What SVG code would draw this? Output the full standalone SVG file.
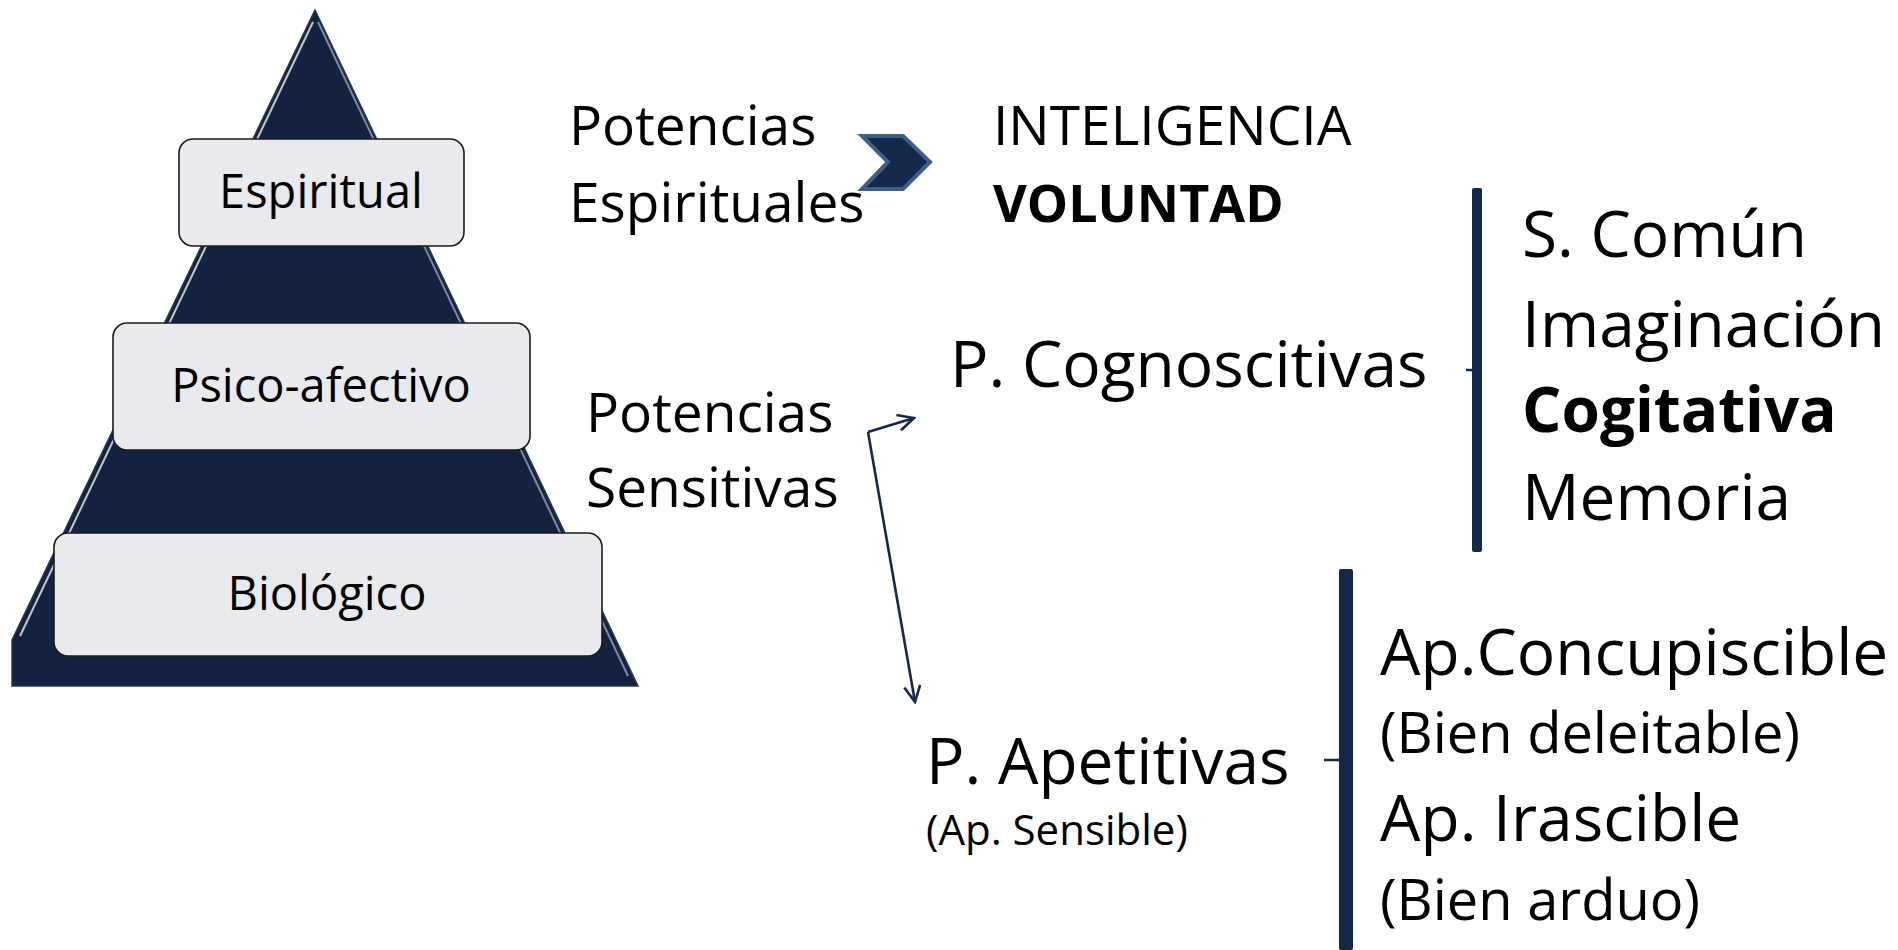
<svg xmlns="http://www.w3.org/2000/svg" width="1898" height="950" viewBox="0 0 1898 950">
<defs>
<style>
text{font-family:"Open Sans","Noto Sans","Liberation Sans",sans-serif;fill:#000}
.lvl{fill:#E8EAED;stroke:#1b1b1b;stroke-width:1.6}
.lbl{font-size:47px;text-anchor:middle}
.mid{font-size:55px}
.big{font-size:64px}
.sub{font-size:56px}
.b{font-weight:bold}
.conn{fill:none;stroke:#14294A;stroke-width:2.6}
.bar{fill:#14294A}
</style>
<marker id="open" viewBox="0 0 20 20" refX="18" refY="10" markerWidth="20" markerHeight="20" markerUnits="userSpaceOnUse" orient="auto">
<path d="M2,2 L18,10 L2,18" fill="none" stroke="#14294A" stroke-width="2.6"/>
</marker>
</defs>
<rect width="1898" height="950" fill="#fff"/>
<g id="pyramid">
<polygon points="315,10 638,686 12,686 12,640" fill="#13233F" stroke="#2a3550" stroke-width="1.5"/>
<polyline points="20,636 313,22" fill="none" stroke="#dfe3ea" stroke-width="2" opacity="0.85"/>
<polyline points="318,22 628,676" fill="none" stroke="#9aa3b2" stroke-width="2" opacity="0.8"/>
</g>
<g id="espiritual">
<rect class="lvl" x="179" y="139" width="285" height="107" rx="14"/>
<text class="lbl" x="321" y="208">Espiritual</text>
</g>
<g id="psico">
<rect class="lvl" x="113" y="323" width="417" height="127" rx="14"/>
<text class="lbl" x="321" y="402">Psico-afectivo</text>
</g>
<g id="biologico">
<rect class="lvl" x="54" y="533" width="548" height="123" rx="14"/>
<text class="lbl" x="327" y="610">Biológico</text>
</g>
<g id="pot-esp">
<text class="mid" x="569" y="145">Potencias</text>
<text class="mid" x="569" y="222">Espirituales</text>
</g>
<g id="chevron">
<polygon points="862,136 903,136 930,162 903,189 862,189 888,162" fill="#13284A" stroke="#3E5F8A" stroke-width="4" stroke-linejoin="miter"/>
</g>
<g id="espirituales-list">
<text class="mid" x="993" y="145">INTELIGENCIA</text>
<text class="b" x="993" y="222" style="font-size:52px">VOLUNTAD</text>
</g>
<g id="pot-sens">
<text class="mid" x="586" y="432">Potencias</text>
<text class="mid" x="586" y="507">Sensitivas</text>
</g>
<g id="cognoscitivas">
<text class="big" x="950" y="387">P. Cognoscitivas</text>
</g>
<g id="cog-list">
<text class="big" x="1522" y="257">S. Común</text>
<text class="big" x="1522" y="347">Imaginación</text>
<text class="b" x="1522" y="432" style="font-size:62px">Cogitativa</text>
<text class="big" x="1522" y="520">Memoria</text>
</g>
<g id="apetitivas">
<text class="big" x="926" y="784">P. Apetitivas</text>
<text x="926" y="845" style="font-size:42px">(Ap. Sensible)</text>
</g>
<g id="ap-list">
<text class="big" x="1380" y="675">Ap.Concupiscible</text>
<text class="sub" x="1380" y="753">(Bien deleitable)</text>
<text class="big" x="1380" y="841">Ap. Irascible</text>
<text class="sub" x="1380" y="920">(Bien arduo)</text>
</g>
<g id="connectors">
<path class="conn" d="M868,432 L914,418" marker-end="url(#open)"/>
<path class="conn" d="M868,432 L915,702" marker-end="url(#open)"/>
<rect class="bar" x="1472" y="188" width="10" height="364" rx="2"/>
<path d="M1466,370 L1476,370" stroke="#14294A" stroke-width="2.5"/>
<rect class="bar" x="1339" y="569" width="14" height="381" rx="2"/>
<path d="M1324,760 L1340,760" stroke="#14294A" stroke-width="2.5"/>
</g>
</svg>
